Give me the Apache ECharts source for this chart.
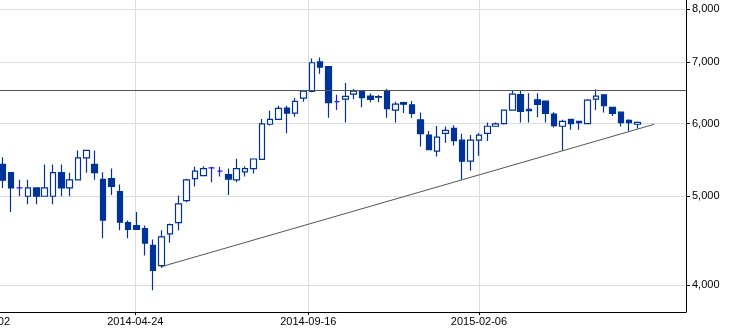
<!DOCTYPE html>
<html>
<head>
<meta charset="utf-8">
<script src="https://cdn.jsdelivr.net/npm/echarts@6/dist/echarts.min.js"></script>
<style>
html,body{margin:0;padding:0;background:#fff;}
#chart{width:731px;height:332px;}
</style>
</head>
<body>
<div id="chart"></div>
<script>
// Weekly candles (week ending Friday)
var dates = [
 '2014-01-03','2014-01-10','2014-01-17','2014-01-24','2014-01-31','2014-02-07','2014-02-14','2014-02-21','2014-02-28','2014-03-07',
 '2014-03-14','2014-03-21','2014-03-28','2014-04-04','2014-04-11','2014-04-18','2014-04-25','2014-05-02','2014-05-09','2014-05-16',
 '2014-05-23','2014-05-30','2014-06-06','2014-06-13','2014-06-20','2014-06-27','2014-07-04','2014-07-11','2014-07-18','2014-07-25',
 '2014-08-01','2014-08-08','2014-08-15','2014-08-22','2014-08-29','2014-09-05','2014-09-12','2014-09-19','2014-09-26','2014-10-03',
 '2014-10-10','2014-10-17','2014-10-24','2014-10-31','2014-11-07','2014-11-14','2014-11-21','2014-11-28','2014-12-05','2014-12-12',
 '2014-12-19','2014-12-26','2015-01-02','2015-01-09','2015-01-16','2015-01-23','2015-01-30','2015-02-06','2015-02-13','2015-02-20',
 '2015-02-27','2015-03-06','2015-03-13','2015-03-20','2015-03-27','2015-04-03','2015-04-10','2015-04-17','2015-04-24','2015-05-01',
 '2015-05-08','2015-05-15','2015-05-22','2015-05-29','2015-06-05','2015-06-12','2015-06-19'
];
var opens = [
 5415,5305,5105,5000,5105,5000,5000,5305,5105,5210,
 5505,5415,5215,5225,5060,4680,4645,4610,4420,4200,
 4550,4680,4945,5225,5265,5370,5325,5280,5210,5315,
 5360,5485,5990,6065,6240,6160,6395,6505,7005,6925,
 6340,6380,6460,6515,6430,6420,6505,6205,6325,6290,
 6055,5830,5600,5855,5930,5755,5460,5755,5855,5960,
 6000,6205,6455,6220,6370,6350,6145,5960,6065,6035,
 6000,6380,6450,6250,6175,6050,5990
];
var closes = [
 5205,5105,5105,5105,5000,5105,5305,5105,5210,5505,
 5610,5305,4710,5125,4685,4600,4600,4445,4150,4515,
 4655,4905,5210,5325,5360,5370,5325,5220,5360,5360,
 5490,5995,6065,6235,6160,6345,6510,6990,6915,6325,
 6340,6425,6510,6405,6375,6412,6230,6300,6300,6155,
 5850,5620,5800,5900,5750,5460,5755,5830,5960,5995,
 6205,6460,6185,6200,6295,6155,5970,6035,6000,6015,
 6365,6430,6275,6155,6015,6015,6020
];
var lows = [
 5105,4805,5000,4900,4900,5000,4900,5000,5000,5210,
 5305,5210,4500,5015,4590,4500,4600,4310,3950,4175,
 4450,4590,4925,5125,5265,5180,5255,5015,5180,5255,
 5295,5485,5970,6065,5855,6105,6340,6490,6800,6090,
 6210,6015,6380,6250,6330,6330,6090,6015,6160,6090,
 5665,5620,5525,5720,5680,5210,5330,5535,5745,5960,
 5985,6205,6015,6015,6095,6015,5940,5610,5910,5910,
 6000,6210,6170,6115,5955,5890,5925
];
var highs = [
 5515,5310,5210,5210,5105,5415,5415,5415,5305,5610,
 5610,5610,5310,5360,5150,4705,4805,4645,4485,4590,
 4670,5010,5225,5385,5390,5385,5385,5360,5495,5390,
 5495,6070,6195,6275,6275,6400,6510,7065,7085,6930,
 6450,6645,6545,6515,6470,6445,6545,6340,6340,6350,
 6170,5890,5965,5955,5975,5850,5830,5855,6015,6015,
 6205,6515,6515,6475,6475,6350,6175,6060,6065,6035,
 6380,6540,6450,6250,6175,6065,6020
];
var xTickLabels = ['2014-04-24','2014-09-16','2015-02-06'];
var yTickValues = [4000,5000,6000,7000,8000];
var resistanceLevel = 6530;
var trendStart = ['2014-05-16', 4190];
var trendEnd = ['2015-07-03', 5990];

function ts(s){ return echarts.number.parseDate(s).getTime(); }

var UP_BORDER = '#003399', DOWN = '#003399', DOJI = '#1a1aff';
var candleData = dates.map(function(d, i){
  var item = { value: [ts(d), opens[i], closes[i], lows[i], highs[i]] };
  if (opens[i] === closes[i]) {
    item.itemStyle = { color: DOJI, borderColor: DOJI, color0: DOJI, borderColor0: DOJI };
  }
  return item;
});

var chart = echarts.init(document.getElementById('chart'), null, {renderer:'canvas'});
var FONT = '"Liberation Sans", Arial, sans-serif';
chart.setOption({
  animation: false,
  backgroundColor: '#ffffff',
  grid: { left: 0, right: 45, top: 0, bottom: 20, containLabel: false },
  xAxis: {
    type: 'value',
    scale: true,
    min: ts('2013-12-31') + 14 * 3600 * 1000,
    max: ts('2015-07-29') + 14 * 3600 * 1000,
    axisLine: { show: true, onZero: false, lineStyle: { color: '#000', width: 1 } },
    axisTick: { show: true, length: 3, lineStyle: { color: '#000' }, customValues: xTickLabels.map(ts) },
    axisLabel: {
      customValues: xTickLabels.map(ts),
      color: '#000', fontFamily: FONT, fontSize: 11, margin: 4,
      formatter: function(v){ return echarts.time.format(v, '{yyyy}-{MM}-{dd}', false); }
    },
    splitLine: { show: true, lineStyle: { color: '#dcdcdc', width: 1 } }
  },
  yAxis: {
    type: 'log',
    logBase: 10,
    position: 'right',
    min: 3739,
    max: 8183,
    axisLine: { show: true, onZero: false, lineStyle: { color: '#000', width: 1 } },
    axisTick: { show: true, length: 4, lineStyle: { color: '#000' }, customValues: yTickValues },
    axisLabel: {
      customValues: yTickValues,
      color: '#000', fontFamily: FONT, fontSize: 11, margin: 6,
      formatter: function(v){ return String(Math.round(v)).replace(/\B(?=(\d{3})+(?!\d))/g, ','); }
    },
    splitLine: { show: true, lineStyle: { color: '#dcdcdc', width: 1 } }
  },
  series: [{
    type: 'candlestick',
    encode: { x: 0, y: [1, 2, 3, 4] },
    barWidth: 6,
    itemStyle: {
      color: '#ffffff', color0: DOWN,
      borderColor: UP_BORDER, borderColor0: DOWN,
      borderWidth: 1.2
    },
    data: candleData,
    markLine: {
      silent: true,
      symbol: ['none', 'none'],
      label: { show: false },
      animation: false,
      data: [
        { yAxis: resistanceLevel },
        [{ coord: [ts(trendStart[0]), trendStart[1]] }, { coord: [ts(trendEnd[0]), trendEnd[1]] }]
      ],
      lineStyle: { color: '#555', type: 'solid', width: 1 }
    }
  }],
  graphic: [{
    type: 'text',
    x: 10, y: 316,
    style: { text: '2013-12-02', align: 'right', verticalAlign: 'top', fill: '#000', font: '11px ' + FONT }
  }]
});
</script>
</body>
</html>
